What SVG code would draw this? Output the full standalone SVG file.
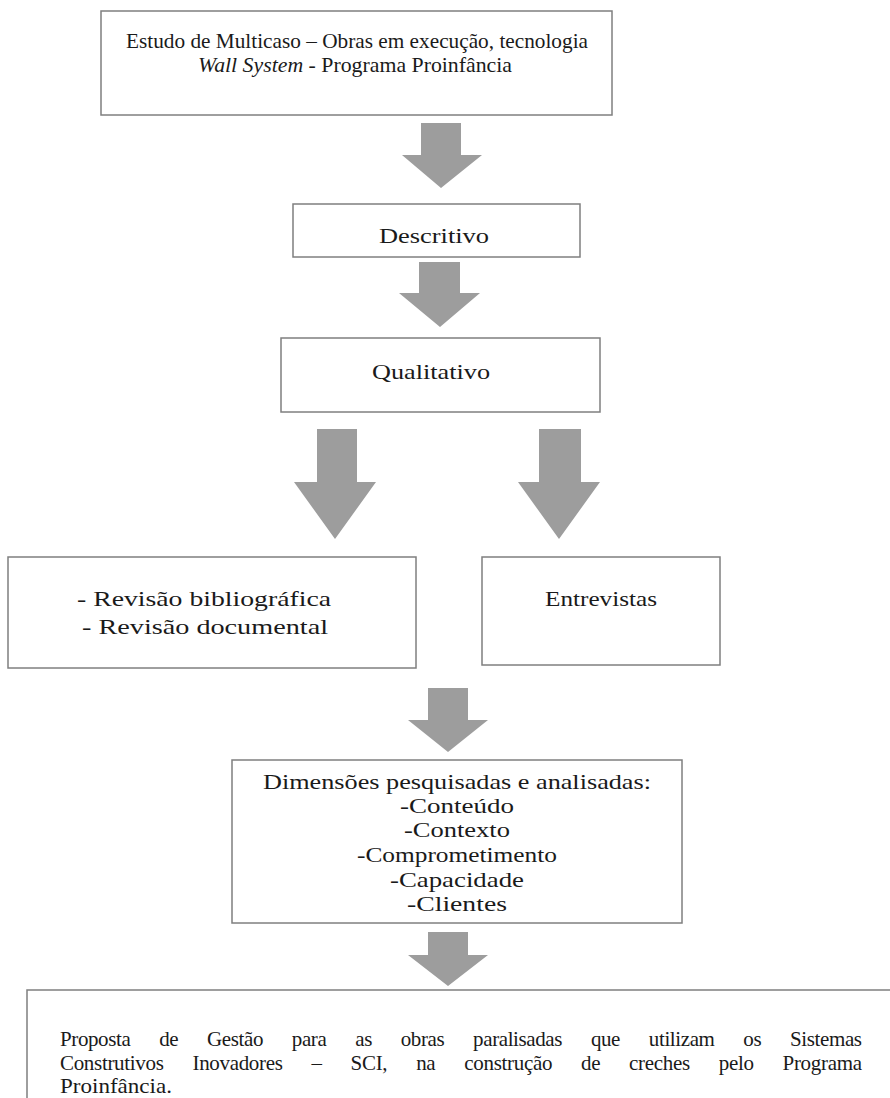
<svg xmlns="http://www.w3.org/2000/svg" width="890" height="1098" viewBox="0 0 890 1098">
<style>
.box{fill:#fff;stroke:#7f7f7f;stroke-width:1.5}
.arr{fill:#9d9d9d}
.t{font-family:"Liberation Serif","DejaVu Serif","Times New Roman",serif;fill:#1a1a1a;font-size:21px}
.c{text-anchor:middle}
</style>
<rect width="890" height="1098" fill="#fff"/>
<g id="connectors">
<path class="arr" d="M421,123 H461 V155 H482 L441,188 L402,155 H421 Z"/>
<path class="arr" d="M419,262 H460 V293 H480 L440,327 L399,293 H419 Z"/>
<path class="arr" d="M317,429 H357 V482 H376 L335,539 L294,482 H317 Z"/>
<path class="arr" d="M539,429 H581 V482 H600 L559,539 L518,482 H539 Z"/>
<path class="arr" d="M428,688 H468 V720 H488 L448,752 L408,720 H428 Z"/>
<path class="arr" d="M428,932 H468 V955 H488 L448,986 L408,955 H428 Z"/>
</g>
<g id="n-estudo">
<rect class="box" x="101" y="11" width="511" height="104"/>
<text class="t c" x="357" y="48" textLength="462" lengthAdjust="spacingAndGlyphs">Estudo de Multicaso – Obras em execução, tecnologia</text>
<text class="t c" x="355" y="72" textLength="314" lengthAdjust="spacingAndGlyphs"><tspan font-style="italic">Wall System</tspan> - Programa Proinfância</text>
</g>
<g id="n-descritivo">
<rect class="box" x="293" y="204" width="287" height="53"/>
<text class="t c" x="434" y="243" font-size="24" textLength="110" lengthAdjust="spacingAndGlyphs">Descritivo</text>
</g>
<g id="n-qualitativo">
<rect class="box" x="281" y="338" width="319" height="74"/>
<text class="t c" x="431" y="379" font-size="24" textLength="118" lengthAdjust="spacingAndGlyphs">Qualitativo</text>
</g>
<g id="n-revisao">
<rect class="box" x="8" y="557" width="408" height="111"/>
<text class="t c" x="204" y="606" font-size="24" textLength="254" lengthAdjust="spacingAndGlyphs">- Revisão bibliográfica</text>
<text class="t c" x="205" y="634" font-size="24" textLength="246" lengthAdjust="spacingAndGlyphs">- Revisão documental</text>
</g>
<g id="n-entrevistas">
<rect class="box" x="482" y="557" width="238" height="108"/>
<text class="t c" x="601" y="606" font-size="24" textLength="112" lengthAdjust="spacingAndGlyphs">Entrevistas</text>
</g>
<g id="n-dimensoes">
<rect class="box" x="232" y="760" width="450" height="163"/>
<text class="t c" x="457" y="789" textLength="388" lengthAdjust="spacingAndGlyphs">Dimensões pesquisadas e analisadas:</text>
<text class="t c" x="457" y="813" textLength="114" lengthAdjust="spacingAndGlyphs">-Conteúdo</text>
<text class="t c" x="457" y="837" textLength="106" lengthAdjust="spacingAndGlyphs">-Contexto</text>
<text class="t c" x="457" y="862" textLength="200" lengthAdjust="spacingAndGlyphs">-Comprometimento</text>
<text class="t c" x="457" y="887" textLength="134" lengthAdjust="spacingAndGlyphs">-Capacidade</text>
<text class="t c" x="457" y="911" textLength="100" lengthAdjust="spacingAndGlyphs">-Clientes</text>
</g>
<g id="n-proposta">
<rect class="box" x="27" y="990" width="880" height="120"/>
<text class="t" font-size="20" x="60" y="1046" word-spacing="24" textLength="802" lengthAdjust="spacing">Proposta de Gestão para as obras paralisadas que utilizam os Sistemas</text>
<text class="t" font-size="20" x="60" y="1070" word-spacing="24" textLength="802" lengthAdjust="spacing">Construtivos Inovadores – SCI, na construção de creches pelo Programa</text>
<text class="t" font-size="20" x="60" y="1093" textLength="112" lengthAdjust="spacingAndGlyphs">Proinfância.</text>
</g>
</svg>
